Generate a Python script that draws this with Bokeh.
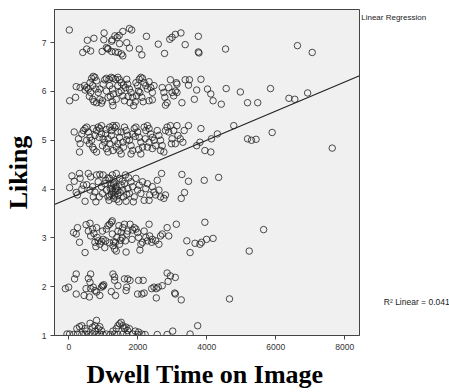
from bokeh.plotting import figure
from bokeh.models import Range1d, FixedTicker, Label
from bokeh.layouts import row, column
from bokeh.embed import file_html
from bokeh.resources import INLINE

# Dwell time (ms) vs. Liking rating, grouped by rating band
liking_7 = [(11,7.26),(534,7.05),(725,7.09),(1020,7.20),(1011,7.06),(515,6.87),(401,6.80),(630,6.83),
            (963,6.82),(1087,6.90),(1134,6.87),(1239,7.03),(1334,7.14),(1401,7.11),(1458,7.15),(1563,7.23),
            (1754,7.29),(1820,7.26),(1468,6.98),(1677,7.00),(1754,6.89),(1239,6.82),(1344,6.81),(1430,6.80),
            (1525,6.77),(1563,6.73),(2039,6.87),(2115,6.75),(2249,7.13),(2592,6.97),(2773,6.78),(2925,7.07),
            (2992,7.11),(3087,7.17),(3249,7.20),(3373,6.96),(3754,7.13),(3754,6.81),(3773,6.79),(4544,6.87),
            (6630,6.94),(7058,6.80),(1258,7.06),(1125,6.88)]

liking_6_x = [20,192,211,325,449,468,563,611,658,706,753,801,687,630,592,687,725,801,896,944,
              973,849,896,992,1039,1087,1163,1230,1277,1353,1420,1468,1515,1182,1258,1296,1201,1258,1277,1373,
              1449,1515,1563,1611,1639,1706,1754,1801,1849,1877,1925,1944,1992,2039,2087,2134,2182,2230,2277,2058,
              2115,2154,2325,2373,2420,2325,2420,2468,1677,1582,1963,2020,1773,1715,1420,1087,1134,782,515,2706,
              2754,2782,2849,2801,2896,2944,2992,3039,3087,3135,3116,3135,3277,3373,3468,3496,3639,3706,3830,4020,
              4116,4182,4420,4563,4973,5182,5477,5848,6382,6553,6925]
liking_6_y = [5.81,5.88,6.10,6.08,6.12,6.03,6.05,6.18,6.27,6.31,6.29,6.22,6.12,5.98,5.90,5.84,5.79,5.77,5.84,5.76,
              5.81,5.98,6.05,6.15,6.24,6.27,6.25,6.29,6.27,6.25,6.29,6.24,6.18,6.12,6.05,5.95,5.90,5.79,5.71,5.84,
              5.98,6.01,5.91,5.81,6.08,6.15,6.05,5.98,5.88,5.71,5.79,6.18,6.12,6.25,6.29,6.27,6.18,6.12,6.05,5.98,
              5.88,5.79,6.20,6.08,5.98,5.81,5.83,6.12,6.25,6.13,5.91,6.01,5.77,5.90,6.12,6.01,5.88,6.05,6.08,6.08,
              5.98,5.88,5.77,5.72,6.08,6.24,5.98,5.91,6.01,6.15,6.18,5.98,5.77,6.24,6.13,6.24,5.84,6.03,6.25,6.05,
              5.95,5.81,5.74,6.06,5.99,5.77,5.77,6.06,5.86,5.84,5.97]

liking_5 = [(153,5.17),(277,5.03),(325,4.93),(306,4.76),(373,5.13),(420,5.20),(468,5.24),(515,5.27),(563,5.17),
            (611,5.06),(658,5.00),(592,4.93),(687,4.86),(725,4.81),(801,4.76),(753,5.10),(801,5.20),(849,5.27),
            (896,5.24),(944,5.13),(992,5.03),(1039,4.96),(973,4.89),(1087,4.83),(1134,4.76),(1182,5.27),(1230,5.20),
            (1277,5.30),(1325,5.26),(1373,5.30),(1420,5.17),(1468,5.06),(1325,5.00),(1182,4.93),(1373,4.86),
            (1468,4.79),(1515,4.72),(1230,5.10),(1134,5.03),(944,5.30),(1068,5.13),(1277,4.79),(1420,4.93),
            (1563,4.96),(1611,5.27),(1658,5.20),(1706,5.10),(1754,5.00),(1801,4.89),(1801,4.72),(1849,4.79),
            (1896,5.24),(1944,5.27),(1992,5.17),(2039,5.06),(2087,4.96),(2134,4.86),(2087,4.72),(2182,5.27),
            (2230,5.20),(2277,5.30),(2325,5.24),(2373,5.13),(2420,5.06),(2325,4.96),(2277,4.86),(2468,5.00),
            (2515,4.89),(2420,4.83),(2563,5.20),(2611,5.10),(2658,5.00),(2706,4.89),(2658,4.79),(2754,4.76),
            (2801,5.20),(2849,5.27),(2896,5.17),(2944,5.30),(2973,4.93),(2992,5.03),(3039,5.20),(3087,4.93),
            (3135,5.30),(3163,5.10),(3230,5.03),(3306,4.96),(3344,5.20),(3468,5.30),(3830,5.24),(3706,4.89),
            (3801,4.96),(3944,4.79),(4116,4.76),(4135,5.03),(4306,5.13),(4782,5.30),(5182,5.03),
            (706,5.24),(515,5.00),(877,5.06),(1087,5.22),(1515,5.17),(1677,5.01),(1925,5.08),(2020,4.81),
            (2211,5.03),(1849,5.13),(1582,4.86),(5296,5.00),(5429,5.02),(5896,5.16),(7639,4.84)]

liking_4 = [(20,4.03),(87,4.27),(153,4.16),(211,3.93),(249,3.88),(306,4.32),(325,4.22),(373,4.00),(468,3.75),
            (515,4.09),(563,4.32),(630,4.25),(687,4.05),(706,3.84),(753,3.94),(782,3.74),(801,4.29),(849,4.15),
            (896,4.30),(944,4.05),(973,3.91),(992,4.29),(1039,4.11),(1087,3.98),(1134,3.84),(1163,3.77),(1182,4.22),
            (1230,4.08),(1277,3.94),(1296,3.81),(1325,4.15),(1353,4.01),(1373,4.32),(1420,3.88),(1449,3.74),
            (1468,4.22),(1515,4.08),(1563,3.98),(1582,3.84),(1611,4.11),(1639,4.29),(1658,3.75),(1706,4.01),
            (1754,3.91),(1801,4.15),(1849,4.05),(1868,3.74),(1896,3.84),(1944,4.22),(1992,3.98),(2039,4.08),
            (2087,3.91),(2134,4.15),(2182,3.77),(2230,4.01),(2277,4.11),(2325,3.77),(2344,3.88),(2420,4.05),
            (2468,3.94),(2515,3.88),(2563,4.18),(2611,3.98),(2658,3.84),(2687,4.32),(2754,3.81),(2801,3.88),
            (3277,4.30),(3354,3.93),(3258,3.81),(3468,4.16),(3925,4.18),(4344,4.24),(1134,4.23),(1258,4.29),
            (1373,4.05),(1068,4.18),(1544,4.16),(1734,4.23),(1677,3.89),(1201,4.01),(1392,3.79),(1487,3.93),
            (1296,4.09),(877,3.84),(611,3.98),(420,4.08),(1230,3.90),(1325,3.86),(1420,3.97),(1300,4.12),
            (1350,3.95),(1250,4.00),(1180,3.86)]

liking_3 = [(134,3.11),(211,3.08),(249,3.21),(306,2.91),(468,2.70),(496,3.27),(563,3.14),(611,3.30),(630,3.04),
            (687,3.18),(725,3.09),(753,2.91),(782,2.82),(820,3.01),(849,2.94),(896,2.87),(944,2.93),(992,2.97),
            (1039,2.80),(1068,2.94),(1087,3.18),(1134,3.25),(1182,3.28),(1230,3.32),(1258,3.08),(1277,2.84),
            (1325,2.77),(1353,2.91),(1373,2.73),(1392,3.01),(1420,3.14),(1449,3.25),(1515,3.11),(1544,3.01),
            (1563,3.21),(1611,3.28),(1639,2.94),(1658,2.71),(1677,3.08),(1706,3.14),(1773,3.28),(1849,3.16),
            (1896,3.21),(1944,3.18),(1992,3.11),(2058,2.75),(2087,2.87),(2134,2.91),(2182,3.14),(2230,3.01),
            (2277,2.94),(2325,3.28),(2344,3.04),(2401,2.91),(2420,2.97),(2515,2.94),(2611,2.87),(2658,3.04),
            (2706,3.08),(2849,3.21),(2896,3.04),(3116,3.28),(3420,2.94),(3515,2.70),(3658,2.89),(3801,2.87),
            (3849,2.91),(3944,3.32),(3992,2.97),(4182,2.99),(5230,2.73),(5648,3.17),(801,3.21),(973,3.14),
            (1468,2.87),(1830,2.97),(2020,3.01),(1258,3.35),(1300,2.92),(1180,2.90),(1500,2.95)]

liking_2 = [(-104,1.96),(-8,1.99),(163,2.16),(211,2.26),(211,1.85),(439,1.82),(496,1.96),(563,2.17),(592,1.79),
            (611,2.09),(630,2.26),(630,1.96),(706,1.99),(753,1.92),(801,1.89),(896,1.82),(944,1.99),(973,2.02),
            (992,2.01),(1011,2.04),(1230,1.90),(1277,2.26),(1325,2.20),(1353,1.82),(1325,2.13),(1420,2.02),
            (1611,2.16),(1658,1.92),(1677,1.99),(1706,2.16),(1773,2.13),(2020,2.13),(2154,2.13),(1992,1.85),
            (2115,1.85),(2182,1.87),(2401,1.96),(2468,1.99),(2534,1.96),(2534,1.77),(2592,1.99),(2706,2.02),
            (2849,2.28),(2877,2.11),(2944,2.22),(3087,2.19),(3068,1.87),(3087,1.85),(3258,1.73),(4658,1.75)]

liking_1 = [(-56,1.03),(20,1.03),(134,1.02),(249,1.03),(373,1.02),(468,1.03),(563,1.02),(687,1.03),(782,1.02),
            (896,1.03),(992,1.02),(1087,1.03),(1201,1.02),(1325,1.03),(1420,1.02),(1563,1.03),(1677,1.02),
            (1849,1.03),(1992,1.02),(2115,1.03),(2211,1.02),(2563,1.02),(2849,1.02),(3515,1.03),
            (230,1.14),(306,1.18),(373,1.20),(468,1.14),(611,1.25),(687,1.17),(753,1.20),(801,1.31),(849,1.14),
            (896,1.18),(944,1.10),(1373,1.14),(1420,1.20),(1468,1.24),(1515,1.27),(1563,1.20),(1611,1.14),
            (1658,1.17),(1706,1.10),(1754,1.14),(1925,1.09),(2020,1.07),(3011,1.09),(3735,1.20),(515,1.09),
            (1277,1.09),(753,1.09)]

# Fit line (SPSS linear regression) and its R^2
fit_intercept = 3.81
fit_slope = 0.000298
fit_name = "Linear Regression"
r2_text = "R\u00b2 Linear = 0.041"

x_title = "Dwell Time on Image"
y_title = "Liking"
x_ticks = [0, 2000, 4000, 6000, 8000]
y_ticks = [1, 2, 3, 4, 5, 6, 7]

pairs = liking_7 + liking_5 + liking_4 + liking_3 + liking_2 + liking_1
xs = [a for a, b in pairs] + liking_6_x
ys = [b for a, b in pairs] + liking_6_y

TOP_H = 356
MAIN_W = 360
x_lo, x_hi = -419, 8430
y_rng = Range1d(1, 7.68)
p = figure(width=MAIN_W, height=TOP_H, x_range=Range1d(x_lo, x_hi), y_range=y_rng,
           output_backend="svg", toolbar_location=None,
           min_border_left=50, min_border_right=1, min_border_top=9, min_border_bottom=21)
p.background_fill_color = "#f0f0f0"
p.border_fill_color = "white"
p.outline_line_color = "#444444"
p.outline_line_width = 1
p.grid.visible = False

p.scatter(xs, ys, size=6.5, fill_color=None, line_color="#222222", line_alpha=0.8, line_width=1)
p.line([x_lo, x_hi], [fit_intercept + fit_slope * x_lo, fit_intercept + fit_slope * x_hi],
       line_color="#222222", line_width=1.2)

for ax in (p.xaxis[0], p.yaxis[0]):
    ax.major_label_text_font = "Liberation Sans"
    ax.major_label_text_font_size = "8.5px"
    ax.major_label_text_color = "#333333"
    ax.axis_line_color = "#444444"
    ax.major_tick_line_color = "#444444"
    ax.major_tick_out = 4
    ax.major_tick_in = 0
    ax.minor_tick_line_color = None
    ax.major_label_standoff = 4

p.xaxis[0].ticker = FixedTicker(ticks=x_ticks)
p.yaxis[0].ticker = FixedTicker(ticks=y_ticks)
p.yaxis[0].axis_label = y_title
p.yaxis[0].axis_label_text_font = "Liberation Serif"
p.yaxis[0].axis_label_text_font_style = "bold"
p.yaxis[0].axis_label_text_font_size = "26px"
p.yaxis[0].axis_label_text_color = "black"
p.yaxis[0].axis_label_standoff = 6


def blank_panel(w, h, yr):
    q = figure(width=w, height=h, x_range=Range1d(0, w), y_range=yr,
               output_backend="svg", toolbar_location=None, x_axis_type=None, y_axis_type=None,
               min_border=0)
    q.outline_line_color = None
    q.grid.visible = False
    q.background_fill_color = "white"
    q.border_fill_color = "white"
    return q


# right-hand legend strip (shares the Liking scale, since the row aligns frames)
side = blank_panel(449 - MAIN_W, TOP_H, y_rng)
side.add_layout(Label(x=0.7, y=7.52, text=fit_name, text_font="Liberation Sans",
                      text_font_size="8px", text_baseline="middle", text_color="#222222"))
side.add_layout(Label(x=23.3, y=1.68, text=r2_text, text_font="Liberation Sans",
                      text_font_size="8.5px", text_baseline="middle", text_color="#222222"))

# x-axis title strip
BOT_H = 36
bottom = blank_panel(449, BOT_H, Range1d(0, BOT_H))
bottom.add_layout(Label(x=204.5, y=18, text=x_title, text_font="Liberation Serif",
                        text_font_style="bold", text_font_size="26px", text_align="center",
                        text_baseline="alphabetic", text_color="black"))

layout = column(row(p, side, spacing=0), bottom, spacing=0)
open("out.html", "w").write(file_html(layout, INLINE))
